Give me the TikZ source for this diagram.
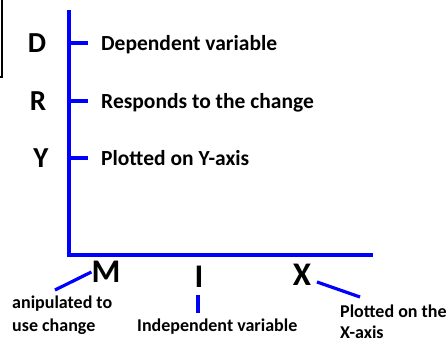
\documentclass[tikz,border=0pt]{standalone}
\usepackage{fontspec}
\setmainfont{Carlito}
\begin{document}
\begin{tikzpicture}[x=1pt,y=-1pt,
        letter/.style={font=\fontsize{29}{29}\selectfont\bfseries,inner sep=0pt},
        bigletter/.style={font=\fontsize{33}{33}\selectfont\bfseries,inner sep=0pt},
        toptext/.style={font=\fontsize{21.5}{24}\selectfont\bfseries,inner sep=0pt,anchor=base west},
        lowtext/.style={font=\fontsize{18}{20}\selectfont\bfseries,inner sep=0pt,anchor=base west},
        axis/.style={blue,line width=3.4pt},
        conn/.style={blue,line width=3.2pt}]
    \useasboundingbox (0,0) rectangle (448,343);
    \draw[black,line width=1.2pt] (0,77) -| (2,0);
    % axes
    \coordinate (top) at (69,10);
    \coordinate (origin) at (69,255);
    \coordinate (xend) at (373,255);
    \draw[axis] (top) -- (origin) -- (xend);
    % left side
    \node[letter] at (37,43) (D) {D};
    \node[letter] at (38,101) (R) {R};
    \node[letter] at (41,158) (Y) {Y};
    \coordinate (dtick) at (88,43);
    \coordinate (rtick) at (88,101);
    \coordinate (ytick) at (88,158);
    \draw[conn] (dtick -| origin) -- (dtick);
    \draw[conn] (rtick -| origin) -- (rtick);
    \draw[conn] (ytick -| origin) -- (ytick);
    \node[toptext] at (101,50) (dep) {Dependent variable};
    \node[toptext] at (101,108) (resp) {Responds to the change};
    \node[toptext] at (101,165) (ploty) {Plotted on Y-axis};
    % bottom side
    \node[bigletter] at (106,272) (M) {M};
    \node[bigletter] at (199,277) (I) {I};
    \node[bigletter] at (302,275) (X) {X};
    \coordinate (mlow) at (55,290);
    \coordinate (itop) at (198,295);
    \coordinate (ilow) at (198,313);
    \coordinate (xstart) at (317,282);
    \coordinate (xlow) at (360,297);
    \draw[conn] (mlow) -- (M.west);
    \draw[conn] (itop) -- (ilow);
    \draw[conn] (xstart) -- (xlow);
    \node[lowtext] at (12,308) (manip) {anipulated to};
    \node[lowtext] at (12,331) (cause) {use change};
    \node[lowtext] at (137,331) (indep) {Independent variable};
    \node[lowtext] at (340,317) (plotx) {Plotted on the};
    \node[lowtext] at (340,338) (xaxis) {X-axis};
\end{tikzpicture}
\end{document}
